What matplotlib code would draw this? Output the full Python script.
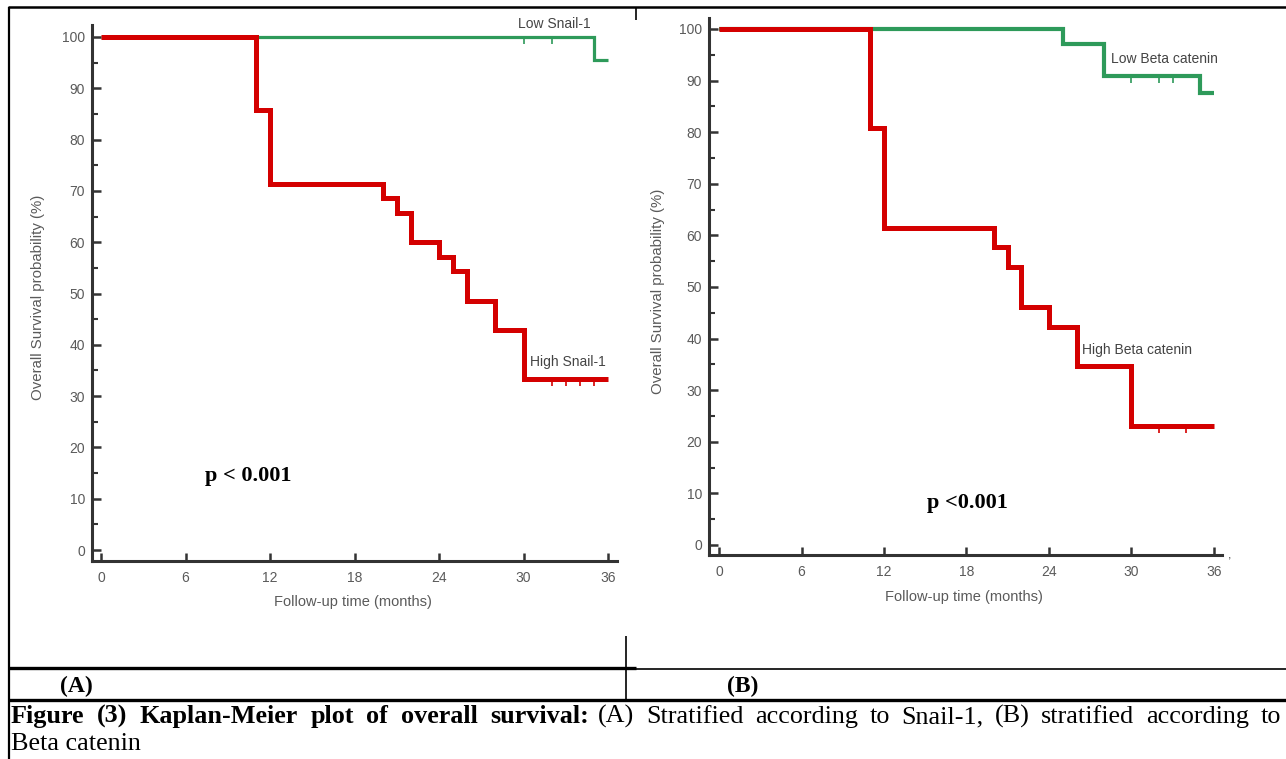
import numpy as np
import matplotlib
matplotlib.use("Agg")
import matplotlib.pyplot as plt
from matplotlib.lines import Line2D

# ---------------- data ----------------
snail_low_t = [0, 35, 36]
snail_low_s = [100, 95.5, 95.5]
snail_low_cens = [30, 32]

snail_high_t = [0, 11, 12, 20, 21, 22, 24, 25, 26, 28, 30, 36]
snail_high_s = [100, 85.7, 71.4, 68.6, 65.7, 60.0, 57.1, 54.3, 48.6, 42.9, 33.3, 33.3]
snail_high_cens = [32, 33, 34, 35]

beta_low_t = [0, 25, 28, 35, 36]
beta_low_s = [100, 97.0, 90.9, 87.6, 87.6]
beta_low_cens = [30, 32, 33]

beta_high_t = [0, 11, 12, 20, 21, 22, 24, 26, 30, 36]
beta_high_s = [100, 80.8, 61.5, 57.7, 53.8, 46.2, 42.3, 34.6, 23.1, 23.1]
beta_high_cens = [32, 34]

x_ticks = [0, 6, 12, 18, 24, 30, 36]
y_ticks = list(range(0, 101, 10))
y_minor = list(range(5, 100, 10))

ylabel = "Overall Survival probability (%)"
xlabel = "Follow-up time (months)"
caption_bold = "Figure (3) Kaplan-Meier plot of overall survival:"
caption_reg = "(A) Stratified according to Snail-1, (B) stratified according to"
caption_line2 = "Beta catenin"

W, H = 1286, 759
fig = plt.figure(figsize=(W / 100, H / 100), dpi=100)
fig.patch.set_facecolor("white")

SANS = ["Liberation Sans Narrow", "Liberation Sans", "DejaVu Sans"]
SERIF = ["Liberation Serif", "DejaVu Serif"]
RED = "#d40000"
GREEN = "#2e9a5a"
AX_COL = "#333333"
TXT_COL = "#5a5a5a"


def px_axes(x0, x1, ytop, ybot):
    return fig.add_axes([x0 / W, 1 - ybot / H, (x1 - x0) / W, (ybot - ytop) / H])


def step_val(t, s, x):
    idx = np.searchsorted(np.asarray(t), x, side="right") - 1
    return np.asarray(s)[idx]


def km_panel(ax, curves, xpix, ypix):
    l, p0, p36, r = xpix
    sx = (p36 - p0) / 36.0
    ax.set_xlim(-(p0 - l) / sx, 36 + (r - p36) / sx)
    t, y0, y100, b = ypix
    sy = (y0 - y100) / 100.0
    ax.set_ylim(-(b - y0) / sy, 100 + (y100 - t) / sy)
    for (tt, ss, cens, col, lw) in curves:
        ax.step(tt, ss, where="post", color=col, lw=lw, solid_joinstyle="miter",
                solid_capstyle="butt", zorder=3)
        cy = [step_val(tt, ss, c) for c in cens]
        ax.plot(cens, cy, ls="none", marker=3, ms=5, mew=1.2, color=col, zorder=3)
    for side in ["top", "right"]:
        ax.spines[side].set_visible(False)
    for side in ["left", "bottom"]:
        ax.spines[side].set_color(AX_COL)
        ax.spines[side].set_linewidth(2.2)
    ax.set_xticks(x_ticks)
    ax.set_yticks(y_ticks)
    ax.set_yticks(y_minor, minor=True)
    ax.tick_params(axis="both", which="major", direction="in", color=AX_COL,
                   labelcolor=TXT_COL, labelsize=10, width=1.8)
    ax.tick_params(axis="x", which="major", length=6, pad=7)
    ax.tick_params(axis="y", which="major", length=6.5, pad=5)
    ax.tick_params(axis="y", which="minor", direction="in", length=4, width=1.5, color=AX_COL)
    for lab in ax.get_xticklabels() + ax.get_yticklabels():
        lab.set_family(SANS)
    ax.set_facecolor("none")


axA = px_axes(92, 617, 25, 561)
km_panel(axA,
         [(snail_low_t, snail_low_s, snail_low_cens, GREEN, 2.3),
          (snail_high_t, snail_high_s, snail_high_cens, RED, 3.6)],
         (92, 101, 608, 617), (25, 550, 37, 561))

axB = px_axes(709, 1222, 18, 555)
km_panel(axB,
         [(beta_low_t, beta_low_s, beta_low_cens, GREEN, 3.0),
          (beta_high_t, beta_high_s, beta_high_cens, RED, 3.6)],
         (709, 719, 1214, 1222), (18, 545, 29, 555))

# ------------- overlay in pixel coordinates -------------
ov = fig.add_axes([0, 0, 1, 1], zorder=10)
ov.set_xlim(0, W)
ov.set_ylim(H, 0)
ov.axis("off")
ov.patch.set_alpha(0)

# axis titles
ov.text(38, 297, ylabel, rotation=90, ha="center", va="center", fontsize=10.8,
        color=TXT_COL, family=SANS)
ov.text(658, 291, ylabel, rotation=90, ha="center", va="center", fontsize=10.8,
        color=TXT_COL, family=SANS)
ov.text(353, 602, xlabel, ha="center", va="center", fontsize=10.5, color=TXT_COL, family=SANS)
ov.text(964, 597, xlabel, ha="center", va="center", fontsize=10.5, color=TXT_COL, family=SANS)

# curve labels
ov.text(518, 24, "Low Snail-1", ha="left", va="center", fontsize=10, color="#444444", family=SANS)
ov.text(530, 362, "High Snail-1", ha="left", va="center", fontsize=10, color="#444444", family=SANS)
ov.text(1111, 59, "Low Beta catenin", ha="left", va="center", fontsize=10, color="#444444", family=SANS)
ov.text(1082, 350, "High Beta catenin", ha="left", va="center", fontsize=10, color="#444444", family=SANS)

# p values
ov.text(205, 476, "p < 0.001", ha="left", va="center", fontsize=16, fontweight="bold",
        color="black", family=SERIF)
ov.text(927, 503, "p <0.001", ha="left", va="center", fontsize=16, fontweight="bold",
        color="black", family=SERIF)
ov.text(1230, 556, ",", ha="center", va="center", fontsize=9, color="#444444", family=SANS)


# table lines
def hline(y, x0, x1, lw):
    ov.add_line(Line2D([x0, x1], [y, y], color="black", lw=lw, solid_capstyle="butt"))


def vline(x, y0, y1, lw):
    ov.add_line(Line2D([x, x], [y0, y1], color="black", lw=lw, solid_capstyle="butt"))


hline(7, 8, W, 1.8)
vline(9, 7, H, 1.6)
vline(636, 7, 20, 1.2)
hline(668, 9, 636, 2.4)
hline(669, 636, W, 1.2)
vline(626, 636, 700, 1.2)
hline(700, 9, W, 2.4)

ov.text(76, 686, "(A)", ha="center", va="center", fontsize=17, fontweight="bold", family=SERIF)
ov.text(743, 686, "(B)", ha="center", va="center", fontsize=17, fontweight="bold", family=SERIF)

# caption: justified words between pixel bounds
renderer = fig.canvas.get_renderer()
probe = ov.text(0, 0, caption_bold, fontsize=12, fontweight="bold", family=SERIF)
CAP_FS = 0.93 * 12 * (589 - 11) / probe.get_window_extent(renderer=renderer).width
probe.remove()


def justify(x0, x1, y, s, weight):
    words = s.split(" ")
    arts, widths = [], []
    for w in words:
        t = ov.text(0, y, w, ha="left", va="baseline", fontsize=CAP_FS, fontweight=weight,
                    family=SERIF, color="black")
        widths.append(t.get_window_extent(renderer=renderer).width)
        arts.append(t)
    gap = (x1 - x0 - sum(widths)) / max(len(words) - 1, 1)
    x = x0
    for t, wd in zip(arts, widths):
        t.set_x(x)
        x += wd + gap


justify(11, 589, 723, caption_bold, "bold")
justify(598, 1281, 723, caption_reg, "normal")
ov.text(11, 750, caption_line2, ha="left", va="baseline", fontsize=CAP_FS,
        family=SERIF, color="black")

fig.savefig("out.png", dpi=100, facecolor="white")
